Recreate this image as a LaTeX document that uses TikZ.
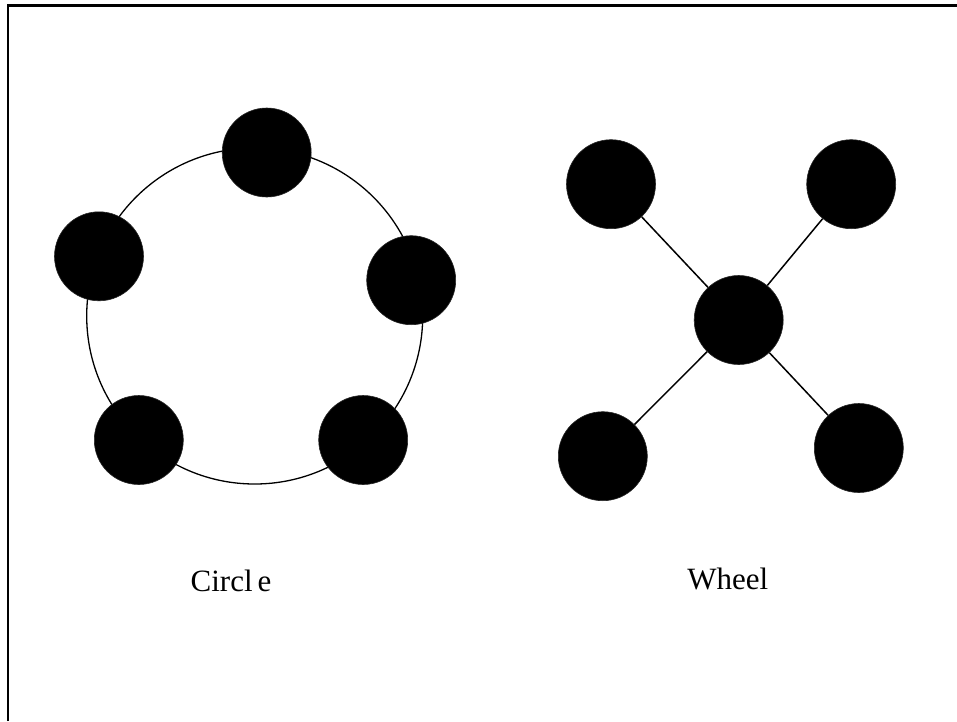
\documentclass[tikz,border=0pt]{standalone}
\usepackage{fontspec}
\setmainfont{Liberation Serif}
\begin{document}
\begin{tikzpicture}[x=1pt,y=-1pt,
  dot/.style={circle,fill=black,draw=black!85,line width=0.6pt,minimum size=89pt,inner sep=0pt},
  ring/.style={draw=black,line width=1.3pt},
  spoke/.style={draw=black,line width=1.5pt},
  caption/.style={font=\fontsize{31}{36}\selectfont,anchor=base,inner sep=0pt}]
\useasboundingbox (0,0) rectangle (957,721);
% frame: top and left edges
\draw[line width=2.5pt] (8.2,721) -- (8.2,5.5) -- (957,5.5);

% circle topology
\coordinate (rc) at (254.7,316);
\draw[ring] (rc) circle[radius=168];
\node[dot] (c1) at (266.7,152.5) {};
\node[dot] (c2) at (99,256.3) {};
\node[dot] (c3) at (411.2,280.2) {};
\node[dot] (c4) at (138.8,440) {};
\node[dot] (c5) at (363.2,440) {};
\node[caption] (tc) at (231,591.7) {Circl\hspace{0.16em}e};

% wheel topology
\node[dot] (hub) at (738.7,320) {};
\node[dot] (w1) at (611,184.2) {};
\node[dot] (w2) at (851.2,184.2) {};
\node[dot] (w3) at (602.8,456.2) {};
\node[dot] (w4) at (858.8,448) {};
\foreach \w in {w1,w2,w3,w4} \draw[spoke] (hub) -- (\w);
\node[caption] (tw) at (727.8,589) {Wheel};
\end{tikzpicture}
\end{document}
